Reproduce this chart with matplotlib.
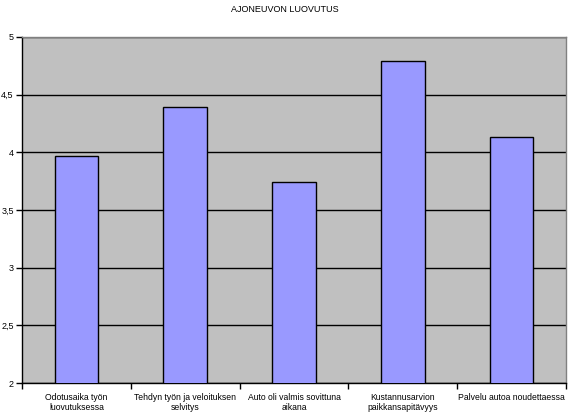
import matplotlib
matplotlib.use("Agg")
import matplotlib.pyplot as plt
from matplotlib.ticker import FixedLocator

title = "AJONEUVON LUOVUTUS"
categories = ["Odotusaika työn\nluovutuksessa",
              "Tehdyn työn ja veloituksen\nselvitys",
              "Auto oli valmis sovittuna\naikana",
              "Kustannusarvion\npaikkansapitävyys",
              "Palvelu autoa noudettaessa"]
values = [3.97, 4.39, 3.74, 4.79, 4.13]
yticks = [2, 2.5, 3, 3.5, 4, 4.5, 5]
ytick_labels = ["2", "2,5", "3", "3,5", "4", "4,5", "5"]

plt.rcParams['font.family'] = ['Liberation Sans', 'DejaVu Sans']

fig = plt.figure(figsize=(5.69, 4.19), dpi=100)
ax = fig.add_axes([22/569, 1-383/419, (566-22)/569, (383-37)/419])
ax.set_facecolor('#C0C0C0')

x = list(range(len(categories)))
ax.bar(x, values, width=0.4, color='#9999FF', edgecolor='black', linewidth=1.0, zorder=3)
ax.set_xlim(-0.5, len(categories)-0.5)
ax.set_ylim(2, 5)
ax.set_yticks(yticks)
ax.set_yticklabels(ytick_labels, fontsize=6.5)
ax.yaxis.grid(True, color='black', linewidth=1.0, zorder=1)
ax.set_axisbelow(True)

ax.set_xticks(x)
ax.set_xticklabels(categories, fontsize=6.2, linespacing=1.25)
ax.tick_params(axis='x', which='major', length=0, pad=7)
ax.xaxis.set_minor_locator(FixedLocator([i + 0.5 for i in range(-1, len(categories))]))
ax.tick_params(axis='x', which='minor', length=4, width=1, direction='out', color='black')
ax.tick_params(axis='y', length=4, width=1, direction='out', pad=2)

for s in ['left', 'bottom']:
    ax.spines[s].set_color('black')
    ax.spines[s].set_linewidth(1.0)
for s in ['top', 'right']:
    ax.spines[s].set_color('#808080')
    ax.spines[s].set_linewidth(1.0)

fig.text(0.5, 1-9/419, title, ha='center', va='center', fontsize=6.5)

fig.savefig("out.png", dpi=100, facecolor='white')
